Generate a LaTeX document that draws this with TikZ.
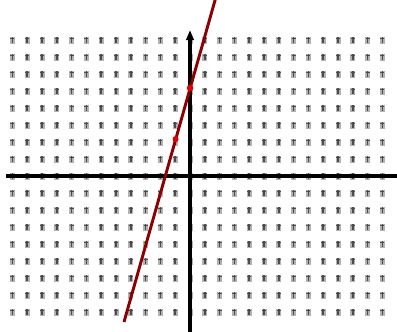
\documentclass[tikz,border=0pt]{standalone}
\usepackage{tikz}
\usepackage{xcolor}
\usetikzlibrary{arrows.meta}
\definecolor{colLine}{RGB}{139,0,0}
\definecolor{colDot}{RGB}{225,0,0}

\begin{document}
\begin{tikzpicture}[
  x=0.75pt, y=-0.75pt,
  axis/.style={line width=2.3pt, black},
  gridblob/.style={fill=black!30},
  gridtick/.style={line width=1.3pt, black!70},
  graphline/.style={line width=2.2pt, colLine},
  dot/.style={circle, fill=colDot, inner sep=0pt, minimum size=5pt},
]
\useasboundingbox (0,0) rectangle (397,332);

% background lattice of small marks
\foreach \k in {-12,...,13} {
  \foreach \j in {-8,...,8} {
    \fill[gridblob] (190+14.8*\k-2.5, 176+17*\j-3.5) rectangle ++(5,7);
    \draw[gridtick] (190+14.8*\k, 176+17*\j-3) -- ++(0,6);
    \draw[gridtick] (190+14.8*\k-2, 176+17*\j-1.5) -- ++(4,0);
  }
}

\coordinate (xl) at (6,176);
\coordinate (xr) at (397,176);
\coordinate (yb) at (190,332);
\coordinate (yt) at (190,30);
\draw[axis] (xl) -- (xr);
\draw[axis, -{Triangle[width=5.5pt, length=7.5pt]}] (yb) -- (yt);

\coordinate (lb) at (124,322);
\coordinate (lt) at (215.4,-1);
\draw[graphline] (lb) -- (lt);

\node[dot] (p1) at (190.1,88) {};
\node[dot, minimum size=4.5pt] (p2) at (175.6,139) {};

\end{tikzpicture}
\end{document}
